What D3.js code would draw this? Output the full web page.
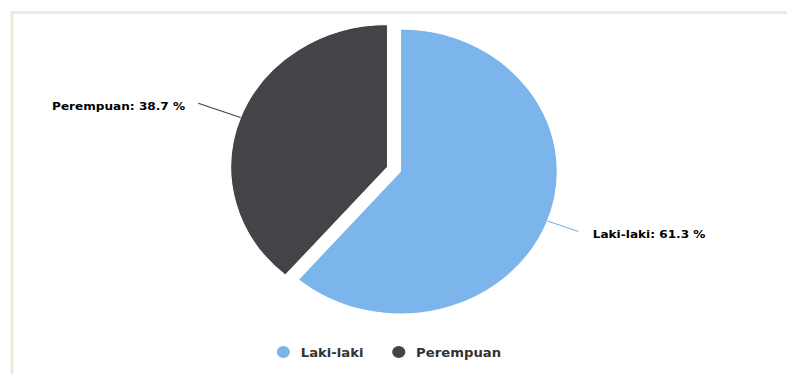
<!DOCTYPE html>
<html><head><meta charset="utf-8">
<script src="https://cdn.jsdelivr.net/npm/d3@7"></script>
<style>
html,body{margin:0;padding:0;background:#fff;}
svg{display:block;}
</style></head>
<body>
<svg id="chart" width="787" height="374"></svg>
<script>
const categories = ["Laki-laki", "Perempuan"];
const values = [61.3, 38.7];
const colors = ["#7cb5ec", "#434348"];
const sliced = [false, true];

const W = 787, H = 374;
const cx = 400.5, cy = 171.5, R = 142.5, stretch = 1.1;
const slicedOffset = 12.6;
const connectorLen = [30, 41];

const svg = d3.select("#chart");
// frame
svg.append("rect").attr("x", 12).attr("y", 12.5).attr("width", W + 20).attr("height", H + 20)
  .attr("fill", "none").attr("stroke", "#ecebe0").attr("stroke-width", 3);

const g = svg.append("g")
  .attr("transform", `translate(${cx},0) scale(${stretch},1) translate(${-cx},0)`);

const pie = d3.pie().sort(null).value(d => d.v);
const arcs = pie(categories.map((c, i) => ({c, v: values[i], i})));
const arc = d3.arc().innerRadius(0).outerRadius(R);

arcs.forEach(a => {
  const i = a.data.i;
  const mid = (a.startAngle + a.endAngle) / 2;
  const off = sliced[i] ? slicedOffset : 0;
  const ox = cx + Math.sin(mid) * off, oy = cy - Math.cos(mid) * off;
  g.append("path").attr("d", arc(a)).attr("transform", `translate(${ox},${oy})`)
    .attr("fill", colors[i]).attr("stroke", "#fff").attr("stroke-width", 1).attr("stroke-linejoin", "round");
  const sx = ox + Math.sin(mid) * R, sy = oy - Math.cos(mid) * R;
  const L = R + connectorLen[i];
  const ex = ox + Math.sin(mid) * L, ey = oy - Math.cos(mid) * L;
  g.append("line").attr("x1", sx).attr("y1", sy).attr("x2", ex).attr("y2", ey)
    .attr("stroke", colors[i]).attr("stroke-width", 1);
  const right = Math.sin(mid) > 0;
  g.append("text").attr("x", right ? ex + 13 : ex - 12).attr("y", ey + 7)
    .attr("text-anchor", right ? "start" : "end")
    .attr("font-family", "DejaVu Sans").attr("font-weight", "bold").attr("font-size", 11)
    .attr("fill", "#000")
    .text(`${a.data.c}: ${d3.format(".1f")(a.data.v)} %`);
});

// legend
let lx = 288;
const ly = 352;
categories.forEach((c, i) => {
  g.append("circle").attr("cx", lx + 6).attr("cy", ly).attr("r", 6).attr("fill", colors[i]);
  const t = g.append("text").attr("x", lx + 21.8).attr("y", ly + 4.7)
    .attr("font-family", "DejaVu Sans").attr("font-weight", "bold").attr("font-size", 12)
    .attr("fill", "#333").text(c);
  lx = lx + 21.8 + t.node().getComputedTextLength() + 26;
});
</script>
</body></html>
